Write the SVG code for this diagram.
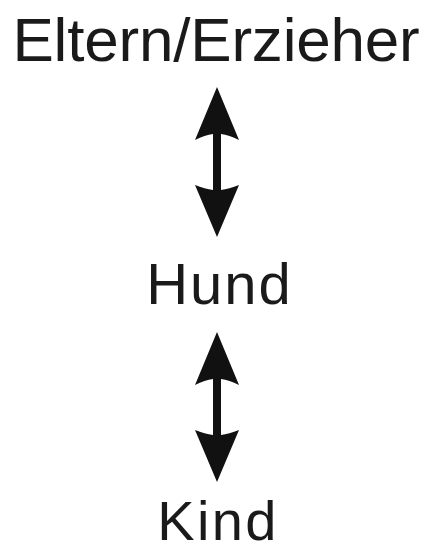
<svg xmlns="http://www.w3.org/2000/svg" xmlns:xlink="http://www.w3.org/1999/xlink" width="430" height="552" viewBox="0 0 430 552">
<style>
.lbl{font-family:"Liberation Sans",Arial,sans-serif;fill:#1a1a1a;text-anchor:middle;}
.arr{fill:#111;}
</style>
<defs>
<path id="dblarrow" class="arr" d="M217,87 L239,140 Q229,135 221,134 L221,190 Q229,189 239,185 L217,237 L195,185 Q205,189 213,190 L213,134 Q205,135 195,140 Z"/>
</defs>
<rect width="430" height="552" fill="#fff"/>
<g id="node-eltern"><text class="lbl" x="216" y="61" font-size="62" letter-spacing="-0.2">Eltern/Erzieher</text></g>
<g id="node-hund"><text class="lbl" x="219.5" y="304" font-size="58" letter-spacing="2">Hund</text></g>
<g id="node-kind"><text class="lbl" x="218" y="540" font-size="56" letter-spacing="2.3">Kind</text></g>
<g id="connectors">
<use xlink:href="#dblarrow"/>
<use xlink:href="#dblarrow" transform="translate(0,245)"/>
</g>
</svg>
